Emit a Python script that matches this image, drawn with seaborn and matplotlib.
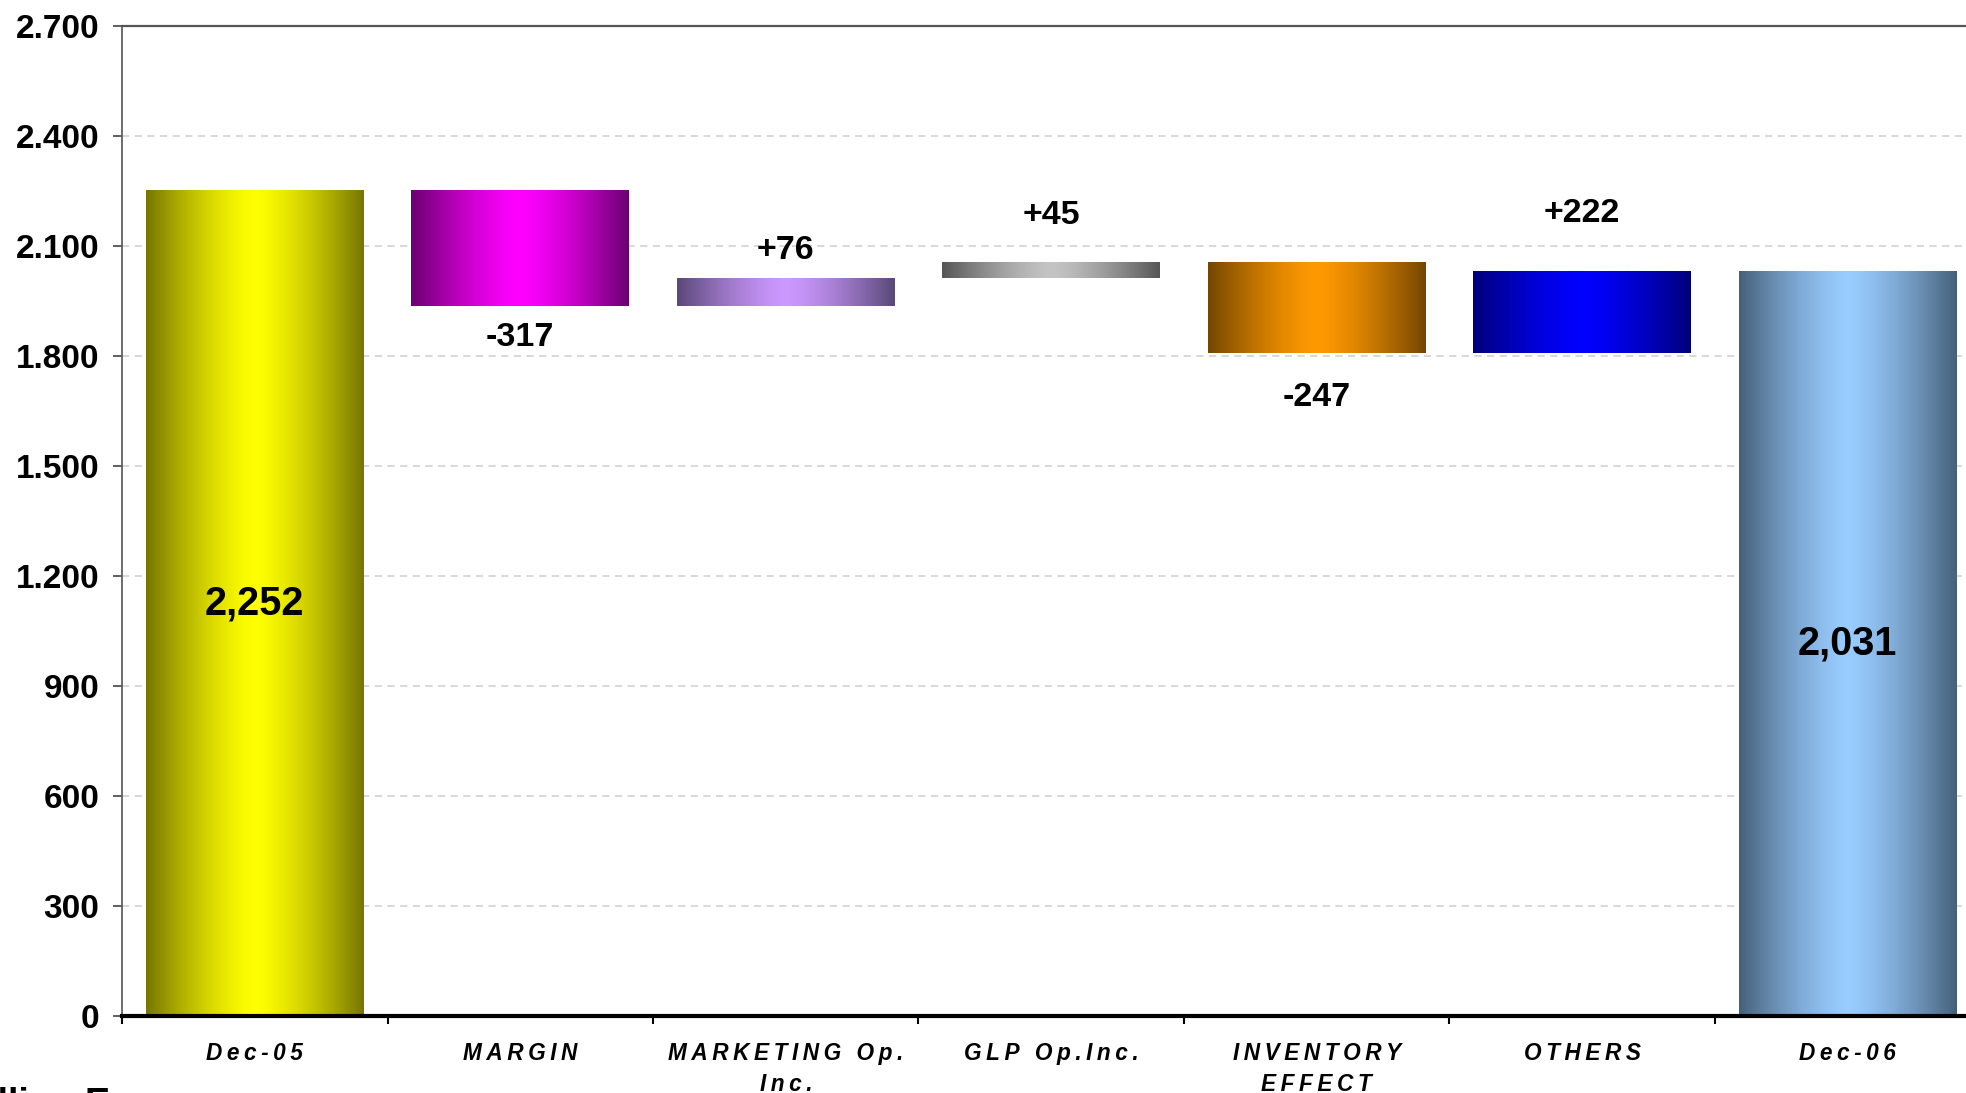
import numpy as np
import matplotlib
matplotlib.use("Agg")
import matplotlib.pyplot as plt
import seaborn as sns
from matplotlib import font_manager
from matplotlib.colors import to_rgb

# ---- data -------------------------------------------------------------
categories = ["Dec-05", "MARGIN", "MARKETING Op.\nInc.", "GLP Op.Inc.",
              "INVENTORY\nEFFECT", "OTHERS", "Dec-06"]
values = [2252, -317, 76, 45, -247, 222, 2031]
kinds = ["total", "delta", "delta", "delta", "delta", "delta", "total"]
y_ticks = [0, 300, 600, 900, 1200, 1500, 1800, 2100, 2400, 2700]

# gradient colours: (dark edge, bright centre) per bar
edge_colors = ["#767600", "#6a0070", "#5a4878", "#565656", "#744600", "#00007a", "#46607a"]
center_colors = ["#ffff00", "#ff00ff", "#cc99ff", "#c4c4c4", "#ff9900", "#0000ff", "#99ccff"]

# vertical offset (pixels) of the delta labels from the bar edge
label_offsets_px = [0, -31, 28, 46, -45, 58, 0]

# ---- waterfall geometry -----------------------------------------------
bottoms, heights = [], []
running = 0
for v, k in zip(values, kinds):
    if k == "total":
        bottoms.append(0)
        heights.append(v)
        running = v
    else:
        if v >= 0:
            bottoms.append(running)
            heights.append(v)
        else:
            bottoms.append(running + v)
            heights.append(-v)
        running += v

# ---- style ------------------------------------------------------------
sns.set_theme(style="white")
plt.rcParams["font.family"] = ["Liberation Sans", "DejaVu Sans"]
installed = {f.name for f in font_manager.fontManager.ttflist}
narrow = "Liberation Sans Narrow" if "Liberation Sans Narrow" in installed else "Liberation Sans"

fig = plt.figure(figsize=(19.66, 10.93), dpi=100)
ax = fig.add_axes([0.0621, 0.0704, 0.9452, 0.9061])

sns.barplot(x=categories, y=heights, order=categories, width=0.82,
            color="white", ax=ax, zorder=2)

# move bars to their floating positions and fill them with a gradient
t = np.linspace(-1, 1, 256)
w = np.abs(t) ** 1.4
for i, patch in enumerate(ax.patches[:len(values)]):
    patch.set_y(bottoms[i])
    patch.set_height(heights[i])
    patch.set_facecolor("none")
    patch.set_edgecolor("none")
    c0 = np.array(to_rgb(center_colors[i]))
    c1 = np.array(to_rgb(edge_colors[i]))
    grad = (c0[None, :] * (1 - w[:, None]) + c1[None, :] * w[:, None])[None, :, :]
    x0 = patch.get_x()
    x1 = x0 + patch.get_width()
    im = ax.imshow(grad, extent=[x0, x1, bottoms[i], bottoms[i] + heights[i]],
                   aspect="auto", interpolation="bilinear", zorder=2)
    im.set_clip_path(patch)

ax.set_xlim(-0.5, len(values) - 0.5)
ax.set_ylim(0, 2700)

# ---- value labels -----------------------------------------------------
for i, (v, k) in enumerate(zip(values, kinds)):
    if k == "total":
        ax.text(i, bottoms[i] + heights[i] / 2, f"{v:,}", ha="center", va="center",
                fontsize=28.5, fontweight="bold", color="black", zorder=4)
    else:
        anchor = bottoms[i] + heights[i] if v >= 0 else bottoms[i]
        ax.annotate(f"{v:+d}", xy=(i, anchor), xytext=(0, label_offsets_px[i]),
                    textcoords="offset pixels", ha="center", va="center",
                    fontsize=24.5, fontweight="bold", family=[narrow, "DejaVu Sans"],
                    color="black", zorder=4)

# ---- axes -------------------------------------------------------------
ax.set_yticks(y_ticks)
ax.set_yticklabels([f"{v:,}".replace(",", ".") for v in y_ticks],
                   fontsize=24, fontweight="bold")
ax.tick_params(axis="y", which="major", direction="out", length=6.5, width=1.2,
               color="#444444", pad=10, left=True, labelcolor="black")

def spaced(label):
    return "\n".join("\u2009".join(line) for line in label.split("\n"))

ax.set_xticks(range(len(categories)))
ax.set_xticklabels([spaced(c) for c in categories], fontsize=16.3, fontweight="bold",
                   fontstyle="italic", linespacing=1.4)
ax.set_xticks(np.arange(-0.5, len(categories), 1.0), minor=True)
ax.tick_params(axis="x", which="major", length=0, pad=19, labelcolor="black")
ax.tick_params(axis="x", which="minor", direction="out", length=6, width=1.5,
               color="black", bottom=True)

ax.yaxis.grid(True, linestyle=(0, (4, 3)), color="#d6d6d6", linewidth=1.3)
ax.xaxis.grid(False)
ax.set_axisbelow(True)

ax.spines["right"].set_visible(False)
ax.spines["top"].set_color("#555555")
ax.spines["top"].set_linewidth(1.6)
ax.spines["left"].set_color("#555555")
ax.spines["left"].set_linewidth(1.2)
ax.spines["bottom"].set_color("black")
ax.spines["bottom"].set_linewidth(3)
ax.set_xlabel("")
ax.set_ylabel("")

# unit caption along the lower edge
fig.text(-0.0224, 0.0055, "Million Euros", ha="left", va="top",
         fontsize=27, fontweight="bold", color="black")

fig.savefig("out.png", dpi=100)
